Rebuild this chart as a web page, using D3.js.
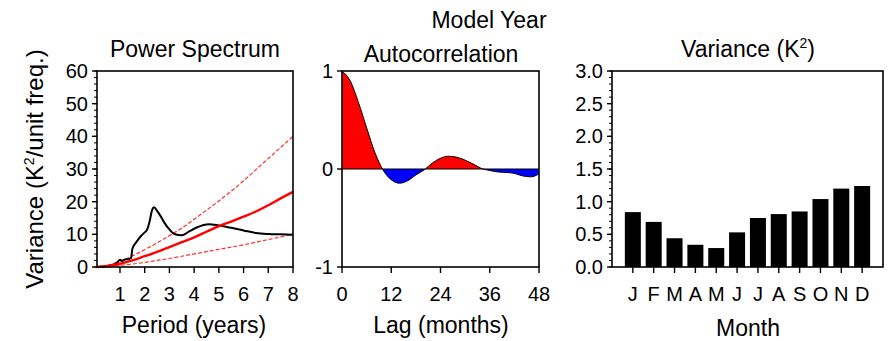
<!DOCTYPE html>
<html>
<head>
<meta charset="utf-8">
<script src="https://cdn.jsdelivr.net/npm/d3@7"></script>
<style>
  body { margin: 0; background: #fff; }
  text { font-family: "Liberation Sans", Arial, Helvetica, sans-serif; fill: #000; }
</style>
</head>
<body>
<script>
// Power spectrum: black curve (period in years, variance)
var specPeriod = [0.1, 0.5, 0.75, 0.9, 1.0, 1.1, 1.2, 1.35, 1.45, 1.5, 1.65, 1.85, 2.0, 2.1, 2.2, 2.3, 2.38, 2.5, 2.65, 2.8, 3.0, 3.2, 3.5, 3.8, 4.1, 4.6, 5.0, 5.5, 6.0, 6.5, 7.0, 7.5, 8.0];
var specValue  = [0, 0.3, 0.8, 1.5, 2.2, 1.9, 2.3, 2.4, 2.8, 5.5, 7.5, 9.5, 10.6, 11.5, 14, 17.5, 18.3, 17.2, 15.5, 13.5, 11.5, 10.1, 9.7, 10.9, 12.1, 13.1, 12.7, 12.0, 11.2, 10.4, 10.1, 10.0, 9.9];

// red noise curve and its bounds
var redPeriod = [0.07, 0.5, 1, 1.5, 2, 2.5, 3, 3.5, 4, 4.5, 5, 5.5, 6, 6.5, 7, 7.5, 8];
var redMid    = [0, 0.3, 1.0, 2.0, 3.3, 4.6, 6.1, 7.6, 9.1, 10.8, 12.5, 13.9, 15.4, 17.0, 18.9, 21.0, 23.0];
var redUpper  = [0, 0.5, 1.7, 3.4, 5.3, 7.4, 9.6, 11.9, 14.6, 17.4, 20.2, 23.2, 26.4, 29.8, 33.2, 36.6, 40.0];
var redLower  = [0, 0.15, 0.5, 0.9, 1.4, 2.0, 2.6, 3.3, 4.0, 4.7, 5.4, 6.1, 6.8, 7.6, 8.4, 9.2, 10.0];

// Autocorrelation by lag (months)
var acfLag = [0, 2, 4, 6, 8, 10, 12, 14, 16, 18, 20, 22, 24, 26, 28, 30, 32, 34, 36, 38, 40, 42, 44, 46, 48];
var acfValue = [1.0, 0.90, 0.68, 0.42, 0.17, -0.01, -0.11, -0.145, -0.12, -0.06, -0.01, 0.06, 0.11, 0.13, 0.12, 0.09, 0.05, 0.005, -0.015, -0.03, -0.035, -0.045, -0.07, -0.08, -0.05];

// Monthly variance
var months = ["J", "F", "M", "A", "M", "J", "J", "A", "S", "O", "N", "D"];
var monthVar = [0.84, 0.69, 0.44, 0.34, 0.29, 0.53, 0.75, 0.81, 0.85, 1.04, 1.20, 1.24];

var W = 890, H = 341;
var top0 = 71, bot0 = 267;
var tickSize = 20, titleSize = 23, labelSize = 23;

var svg = d3.select("body").append("svg")
    .attr("width", W)
    .attr("height", H);

// helper: frame + ticks in NCL style (major ticks outward)
function frame(x0, x1) {
  svg.append("rect")
    .attr("x", x0).attr("y", top0)
    .attr("width", x1 - x0).attr("height", bot0 - top0)
    .attr("fill", "none").attr("stroke", "#000").attr("stroke-width", 1.6);
}

function yTicks(y, xpos, majors, fmt, minors) {
  var g = svg.append("g");
  if (minors) {
    g.selectAll("line.minor").data(minors).enter().append("line")
      .attr("x1", xpos - 3).attr("x2", xpos)
      .attr("y1", function(d) { return y(d); })
      .attr("y2", function(d) { return y(d); })
      .attr("stroke", "#000").attr("stroke-width", 1);
  }
  g.selectAll("line.major").data(majors).enter().append("line")
    .attr("x1", xpos - 5).attr("x2", xpos)
    .attr("y1", function(d) { return y(d); })
    .attr("y2", function(d) { return y(d); })
    .attr("stroke", "#000").attr("stroke-width", 1.4);
  g.selectAll("text").data(majors).enter().append("text")
    .attr("x", xpos - 9)
    .attr("y", function(d) { return y(d) + 7; })
    .attr("text-anchor", "end")
    .style("font-size", tickSize + "px")
    .text(fmt);
}

function xTicks(x, majors, labels) {
  var g = svg.append("g");
  g.selectAll("line").data(majors).enter().append("line")
    .attr("x1", function(d) { return x(d); })
    .attr("x2", function(d) { return x(d); })
    .attr("y1", bot0).attr("y2", bot0 + 6)
    .attr("stroke", "#000").attr("stroke-width", 1.4);
  g.selectAll("text").data(majors).enter().append("text")
    .attr("x", function(d) { return x(d); })
    .attr("y", 301)
    .attr("text-anchor", "middle")
    .style("font-size", tickSize + "px")
    .text(function(d, i) { return labels[i]; });
}

function title(x, y, str, size) {
  return svg.append("text")
    .attr("x", x).attr("y", y)
    .attr("text-anchor", "middle")
    .style("font-size", size + "px")
    .text(str);
}

// ****************** Power spectrum ******************
var x1 = d3.scaleLinear().domain([0.07, 8]).range([97, 293]);
var y1 = d3.scaleLinear().domain([0, 60]).range([bot0, top0]);

var line1 = d3.line()
    .x(function(d) { return x1(d[0]); })
    .y(function(d) { return y1(d[1]); })
    .curve(d3.curveMonotoneX);

svg.append("path")
  .datum(d3.zip(redPeriod, redUpper))
  .attr("d", line1)
  .attr("fill", "none").attr("stroke", "#ff3030")
  .attr("stroke-width", 1.2).attr("stroke-dasharray", "4,2");
svg.append("path")
  .datum(d3.zip(redPeriod, redLower))
  .attr("d", line1)
  .attr("fill", "none").attr("stroke", "#ff3030")
  .attr("stroke-width", 1.2).attr("stroke-dasharray", "4,2");
svg.append("path")
  .datum(d3.zip(specPeriod, specValue))
  .attr("d", line1)
  .attr("fill", "none").attr("stroke", "#000")
  .attr("stroke-width", 2);
svg.append("path")
  .datum(d3.zip(redPeriod, redMid))
  .attr("d", line1)
  .attr("fill", "none").attr("stroke", "#ff0000")
  .attr("stroke-width", 2.4);

frame(97, 293);
yTicks(y1, 97, d3.range(0, 61, 10), function(d) { return d; }, d3.range(0, 61, 2));
xTicks(x1, d3.range(1, 9), d3.range(1, 9));
title(195, 57, "Power Spectrum", titleSize);
title(194, 333, "Period (years)", labelSize);

var ylab = svg.append("text")
  .attr("transform", "translate(43,169) rotate(-90)")
  .attr("text-anchor", "middle")
  .style("font-size", "24px");
ylab.append("tspan").text("Variance (K");
ylab.append("tspan").attr("dy", -9).style("font-size", "14px").text("2");
ylab.append("tspan").attr("dy", 9).text("/unit freq.)");

// ****************** Autocorrelation ******************
var x2 = d3.scaleLinear().domain([0, 48]).range([342, 539]);
var y2 = d3.scaleLinear().domain([-1, 1]).range([bot0, top0]);
var acf = d3.zip(acfLag, acfValue);

var defs = svg.append("defs");
defs.append("clipPath").attr("id", "clipPos").append("rect")
  .attr("x", 342).attr("y", top0).attr("width", 197).attr("height", y2(0) - top0);
defs.append("clipPath").attr("id", "clipNeg").append("rect")
  .attr("x", 342).attr("y", y2(0)).attr("width", 197).attr("height", bot0 - y2(0));

var area2 = d3.area()
    .x(function(d) { return x2(d[0]); })
    .y0(y2(0))
    .y1(function(d) { return y2(d[1]); })
    .curve(d3.curveMonotoneX);
var line2 = d3.line()
    .x(function(d) { return x2(d[0]); })
    .y(function(d) { return y2(d[1]); })
    .curve(d3.curveMonotoneX);

svg.append("path").datum(acf).attr("d", area2)
  .attr("fill", "#ff0000").attr("clip-path", "url(#clipPos)");
svg.append("path").datum(acf).attr("d", area2)
  .attr("fill", "#0000ff").attr("clip-path", "url(#clipNeg)");
svg.append("line")
  .attr("x1", 342).attr("x2", 539)
  .attr("y1", y2(0)).attr("y2", y2(0))
  .attr("stroke", "#000").attr("stroke-width", 1);
svg.append("path").datum(acf).attr("d", line2)
  .attr("fill", "none").attr("stroke", "#000").attr("stroke-width", 1);

frame(342, 539);
yTicks(y2, 342, [-1, 0, 1], function(d) { return d; }, null);
xTicks(x2, [0, 12, 24, 36, 48], [0, 12, 24, 36, 48]);
title(441, 62, "Autocorrelation", titleSize);
title(441, 333, "Lag (months)", labelSize);
title(489, 28, "Model Year", titleSize);

// ****************** Monthly variance ******************
var x3 = d3.scaleLinear().domain([0, 13]).range([612, 883]);
var y3 = d3.scaleLinear().domain([0, 3]).range([bot0, top0]);
var bw = 16;

svg.selectAll("rect.bar").data(monthVar).enter().append("rect")
  .attr("class", "bar")
  .attr("x", function(d, i) { return x3(i + 1) - bw / 2; })
  .attr("y", function(d) { return y3(d); })
  .attr("width", bw)
  .attr("height", function(d) { return bot0 - y3(d); })
  .attr("fill", "#000");

frame(612, 883);
yTicks(y3, 612, d3.range(0, 3.01, 0.5), function(d) { return d3.format(".1f")(d); }, d3.range(0, 3.01, 0.1));
xTicks(x3, d3.range(1, 13), months);

var t3 = svg.append("text")
  .attr("x", 748).attr("y", 57)
  .attr("text-anchor", "middle")
  .style("font-size", titleSize + "px");
t3.append("tspan").text("Variance (K");
t3.append("tspan").attr("dy", -9).style("font-size", "14px").text("2");
t3.append("tspan").attr("dy", 9).text(")");
title(748, 336, "Month", labelSize);
</script>
</body>
</html>
